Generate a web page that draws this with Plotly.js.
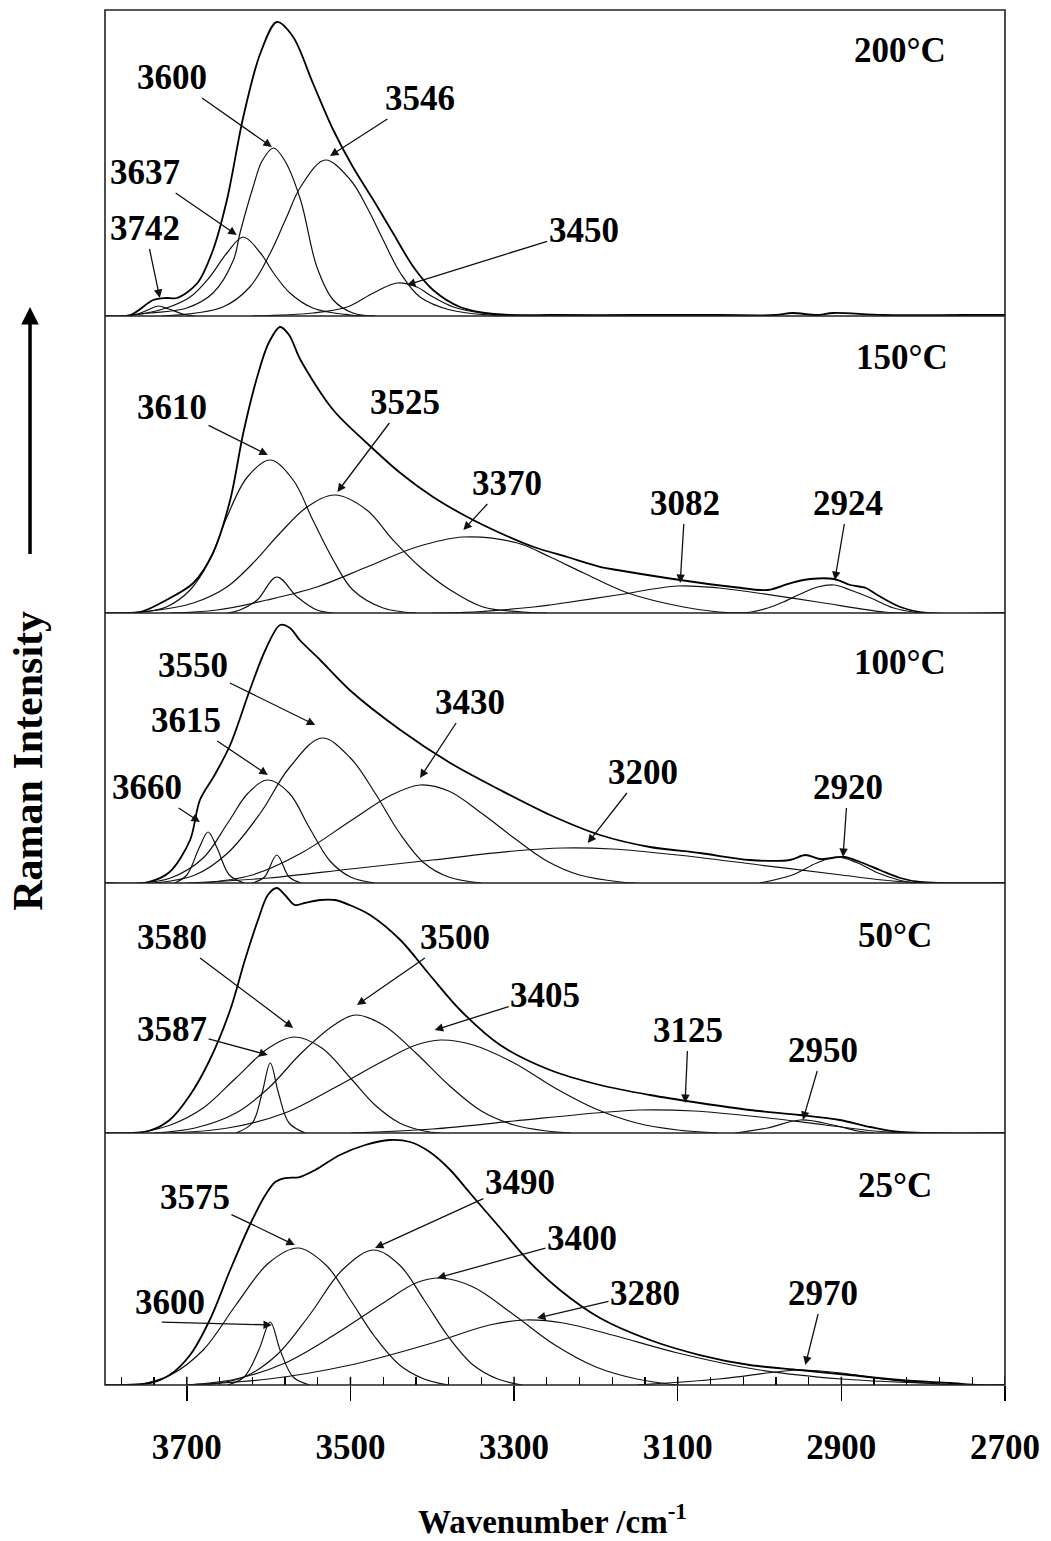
<!DOCTYPE html>
<html><head><meta charset="utf-8">
<script src="https://cdn.plot.ly/plotly-3.0.1.min.js"></script>
<style>html,body{margin:0;padding:0;background:#fff}</style>
</head><body><div id="chart" style="width:1051px;height:1541px"></div>
<script>
// ---------- axis ----------
const xTickVals = [3700, 3500, 3300, 3100, 2900, 2700];
const xMinorVals = [3780,3740,3660,3620,3580,3540,3460,3420,3380,3340,3260,3220,3180,3140,3060,3020,2980,2940,2860,2820,2780,2740];
const temps = ['200°C', '150°C', '100°C', '50°C', '25°C'];

// ---------- 200 °C ----------
const t200_sum_wn = [3800,3769,3741,3725,3712,3687,3668,3651,3631,3610,3590,3570,3546,3521,3497,3472,3448,3423,3399,3366,3325,3250,3150,3050,2980,2960,2930,2910,2850,2750,2700];
const t200_sum_I  = [0,1,16,18,18,33,66,116,199,263,294,279,233,186,149,116,83,49,26,9,2,1,1,1,1,3,1,3,1,1,1];
const t200_3742_wn = [3780,3760,3745,3735,3722,3705,3690];
const t200_3742_I  = [0,2,7,10,7,2,0];
const t200_3637_wn = [3790,3765,3725,3696,3672,3651,3631,3610,3594,3574,3546,3500,3470];
const t200_3637_I  = [0,1,8,19,39,63,79,63,43,23,8,1,0];
const t200_3600_wn = [3780,3745,3700,3668,3643,3635,3619,3608,3594,3580,3561,3541,3521,3497,3470];
const t200_3600_I  = [0,3,8,23,56,83,129,155,168,155,116,49,16,3,0];
const t200_3546_wn = [3730,3656,3623,3598,3578,3561,3531,3500,3480,3460,3439,3415,3378,3330,3290];
const t200_3546_I  = [0,9,29,63,99,129,156,136,109,76,43,19,6,1,0];
const t200_3450_wn = [3620,3546,3504,3472,3443,3419,3399,3374,3340,3300,3270];
const t200_3450_I  = [0,3,9,23,33,29,19,9,3,1,0];

// ---------- 150 °C ----------
const t150_sum_wn = [3800,3757,3725,3692,3668,3647,3631,3614,3600,3586,3575,3561,3521,3480,3439,3399,3357,3317,3276,3235,3194,3174,3097,3032,2990,2962,2938,2909,2889,2870,2856,2828,2795,2700];
const t150_sum_I  = [0,1,13,30,60,113,180,236,270,286,278,253,203,170,140,116,96,80,66,56,46,43,33,26,23,30,34,34,28,25,18,6,0,0];
const t150_3610_wn = [3780,3753,3725,3696,3672,3651,3626,3598,3570,3546,3521,3497,3460,3420];
const t150_3610_I  = [0,1,6,23,53,96,136,153,133,93,53,23,5,0];
const t150_3590_wn = [3650,3635,3614,3590,3565,3541,3520];
const t150_3590_I  = [0,3,13,36,16,3,0];
const t150_3525_wn = [3790,3745,3692,3651,3619,3586,3553,3519,3480,3448,3415,3378,3338,3290,3260];
const t150_3525_I  = [0,2,10,26,50,80,106,118,103,73,46,23,6,1,0];
const t150_3370_wn = [3720,3663,3602,3541,3480,3419,3362,3296,3256,3215,3161,3093,3050,3020];
const t150_3370_I  = [0,3,13,26,46,66,76,70,56,40,20,6,1,0];
const t150_3082_wn = [3400,3350,3276,3256,3174,3100,3050,3011,2929,2848,2820];
const t150_3082_I  = [0,1,6,8,18,27,25,21,11,1,0];
const t150_2924_wn = [3040,3010,2990,2971,2950,2929,2909,2889,2864,2836,2805];
const t150_2924_I  = [0,1,5,11,19,26,28,23,15,5,0];

// ---------- 100 °C ----------
const t100_sum_wn = [3800,3747,3721,3696,3684,3666,3647,3623,3604,3586,3574,3562,3537,3501,3439,3378,3317,3256,3195,3134,3073,3012,2963,2944,2926,2896,2877,2853,2828,2804,2700];
const t100_sum_I  = [0,1,11,43,83,108,138,193,233,258,255,243,223,193,153,120,93,68,48,36,30,23,23,28,24,26,21,13,5,1,0];
const t100_3660_wn = [3715,3700,3685,3674,3663,3648,3630];
const t100_3660_I  = [0,8,35,51,35,8,0];
const t100_3615_wn = [3760,3720,3680,3650,3625,3601,3575,3550,3525,3500,3470];
const t100_3615_I  = [0,5,25,60,90,103,90,55,22,6,0];
const t100_3590_wn = [3620,3605,3590,3575,3560];
const t100_3590_I  = [0,6,28,6,0];
const t100_3550_wn = [3740,3690,3650,3610,3575,3535,3500,3470,3440,3410,3380,3340];
const t100_3550_I  = [0,8,30,70,115,145,125,90,50,20,6,0];
const t100_3430_wn = [3680,3620,3560,3500,3450,3415,3380,3340,3300,3260,3220,3170,3150];
const t100_3430_I  = [0,8,30,62,88,98,92,70,45,22,8,1,0];
const t100_3200_wn = [3700,3600,3500,3400,3300,3240,3180,3100,3000,2900,2850,2800];
const t100_3200_I  = [0,5,14,23,32,35,34,28,18,8,3,0];
const t100_2920_wn = [3000,2960,2930,2905,2880,2855,2830,2810];
const t100_2920_I  = [0,8,20,26,20,10,3,0];

// ---------- 50 °C ----------
const t50_sum_wn = [3800,3747,3721,3696,3672,3647,3629,3613,3601,3590,3580,3568,3556,3537,3519,3501,3476,3439,3403,3366,3317,3256,3195,3134,3073,3012,2951,2902,2865,2828,2700];
const t50_sum_I  = [0,2,13,38,73,123,173,213,238,245,238,228,230,233,233,228,218,193,158,123,88,63,48,38,30,23,18,13,6,1,0];
const t50_3587_wn = [3640,3620,3608,3598,3588,3575,3555];
const t50_3587_I  = [0,10,40,70,40,10,0];
const t50_3580_wn = [3760,3720,3680,3640,3600,3568,3535,3500,3470,3440,3410,3390];
const t50_3580_I  = [0,8,25,55,85,96,85,55,28,10,2,0];
const t50_3500_wn = [3740,3690,3640,3600,3560,3520,3494,3460,3420,3380,3340,3300,3260,3230];
const t50_3500_I  = [0,5,20,45,80,108,118,108,80,48,22,8,2,0];
const t50_3405_wn = [3720,3650,3580,3520,3460,3420,3390,3350,3300,3250,3200,3150,3100,3050];
const t50_3405_I  = [0,5,20,45,72,88,93,88,70,45,24,10,3,0];
const t50_3125_wn = [3500,3400,3300,3200,3146,3080,3000,2920,2860,2820];
const t50_3125_I  = [0,4,12,20,23,22,16,8,2,0];
const t50_2950_wn = [3030,2990,2950,2910,2880,2860];
const t50_2950_I  = [0,5,13,8,2,0];

// ---------- 25 °C ----------
const t25_sum_wn = [3800,3745,3721,3696,3672,3647,3623,3604,3592,3580,3562,3543,3513,3482,3452,3427,3403,3378,3354,3317,3281,3244,3195,3134,3073,3012,2951,2890,2828,2767,2731,2700];
const t25_sum_I  = [0,2,10,30,65,115,160,190,203,207,208,215,230,240,245,243,233,215,192,157,123,95,67,45,30,20,15,10,5,2,0,0];
const t25_3600_wn = [3650,3630,3612,3598,3586,3570,3550];
const t25_3600_I  = [0,8,35,63,35,8,0];
const t25_3575_wn = [3760,3720,3680,3640,3600,3564,3530,3500,3470,3440,3410,3380];
const t25_3575_I  = [0,10,35,80,122,137,120,85,48,20,6,0];
const t25_3490_wn = [3680,3630,3590,3550,3510,3472,3440,3410,3380,3350,3320,3290];
const t25_3490_I  = [0,8,30,70,115,135,120,85,48,20,6,0];
const t25_3400_wn = [3700,3640,3580,3520,3460,3420,3390,3350,3300,3250,3200,3150,3100];
const t25_3400_I  = [0,6,22,50,82,102,107,98,70,40,18,6,0];
const t25_3280_wn = [3700,3600,3500,3400,3330,3286,3240,3180,3100,3000,2900,2800,2750];
const t25_3280_I  = [0,6,20,42,60,65,62,50,32,15,6,2,0];
const t25_2970_wn = [3150,3050,2980,2950,2900,2850,2800,2760];
const t25_2970_I  = [0,6,13,15,12,6,2,0];

// peak labels: [text, label wn, label I, arrow-head wn, arrow-head I]
const labels200 = [['3600',3718,239,3596,169],['3546',3415,218,3525,160],['3637',3751,144,3639,81],['3742',3751,88,3733,18],['3450',3215,86,3431,31]];
const labels150 = [['3610',3718,206,3601,158],['3525',3433,211,3516,121],['3370',3309,130,3362,83],['3082',3091,110,3097,30],['2924',2892,110,2908,33]];
const labels100 = [['3550',3692,218,3543,158],['3615',3701,163,3601,108],['3660',3749,96,3684,61],['3430',3354,181,3415,105],['3200',3142,111,3210,40],['2920',2892,96,2898,26]];
const labels50  = [['3580',3718,196,3570,105],['3587',3718,104,3601,78],['3500',3372,196,3492,128],['3405',3262,138,3397,103],['3125',3087,103,3091,30],['2950',2922,83,2947,13]];
const labels25  = [['3575',3690,188,3568,140],['3490',3293,203,3470,137],['3400',3217,147,3394,107],['3280',3140,92,3272,67],['2970',2922,92,2944,20]];
const tempLabelPos = [[2828,266],[2826,256],[2828,221],[2834,198],[2834,200]];

// ---------- build ----------
const panels = [
  {sum:[t200_sum_wn,t200_sum_I], comps:[[t200_3742_wn,t200_3742_I],[t200_3637_wn,t200_3637_I],[t200_3600_wn,t200_3600_I],[t200_3546_wn,t200_3546_I],[t200_3450_wn,t200_3450_I]], labels:labels200, top:306},
  {sum:[t150_sum_wn,t150_sum_I], comps:[[t150_3610_wn,t150_3610_I],[t150_3590_wn,t150_3590_I],[t150_3525_wn,t150_3525_I],[t150_3370_wn,t150_3370_I],[t150_3082_wn,t150_3082_I],[t150_2924_wn,t150_2924_I]], labels:labels150, top:297},
  {sum:[t100_sum_wn,t100_sum_I], comps:[[t100_3660_wn,t100_3660_I],[t100_3615_wn,t100_3615_I],[t100_3590_wn,t100_3590_I],[t100_3550_wn,t100_3550_I],[t100_3430_wn,t100_3430_I],[t100_3200_wn,t100_3200_I],[t100_2920_wn,t100_2920_I]], labels:labels100, top:270},
  {sum:[t50_sum_wn,t50_sum_I], comps:[[t50_3587_wn,t50_3587_I],[t50_3580_wn,t50_3580_I],[t50_3500_wn,t50_3500_I],[t50_3405_wn,t50_3405_I],[t50_3125_wn,t50_3125_I],[t50_2950_wn,t50_2950_I]], labels:labels50, top:250},
  {sum:[t25_sum_wn,t25_sum_I], comps:[[t25_3600_wn,t25_3600_I],[t25_3575_wn,t25_3575_I],[t25_3490_wn,t25_3490_I],[t25_3400_wn,t25_3400_I],[t25_3280_wn,t25_3280_I],[t25_2970_wn,t25_2970_I]], labels:labels25, top:252}
];
// panel boundaries in fraction of plot height (top to bottom)
const bounds = [1, 0.77745, 0.56145, 0.36509, 0.18327, 0];

const FONT = 'Liberation Serif, Times New Roman, serif';
const traces = [], annotations = [], shapes = [];
const layout = {
  width:1051, height:1541, margin:{l:105, r:46, t:10, b:156},
  paper_bgcolor:'#fff', plot_bgcolor:'#fff', showlegend:false,
  xaxis:{range:[3800,2700], anchor:'y5', tickmode:'array', tickvals:xTickVals,
    ticks:'outside', ticklen:15, tickwidth:1.5, tickcolor:'#000', showgrid:false, zeroline:false,
    showline:false, ticklabelstandoff:16,
    tickfont:{family:FONT, size:35, color:'#000', weight:'bold'},
    minor:{tickvals:xMinorVals, ticks:'inside', ticklen:8, tickwidth:1.2, tickcolor:'#000', showgrid:false}
  },
  annotations, shapes
};

panels.forEach((p, i) => {
  const ya = i === 0 ? 'y' : 'y' + (i + 1);
  const yKey = i === 0 ? 'yaxis' : 'yaxis' + (i + 1);
  layout[yKey] = {domain:[bounds[i+1], bounds[i]], range:[0, p.top], anchor:'x',
    showticklabels:false, showgrid:false, zeroline:false, showline:false, ticks:'', fixedrange:true};
  p.comps.forEach(c => traces.push({x:c[0], y:c[1], xaxis:'x', yaxis:ya, type:'scatter', mode:'lines',
    line:{color:'#111', width:1.2, shape:'spline', smoothing:1}, hoverinfo:'skip'}));
  traces.push({x:p.sum[0], y:p.sum[1], xaxis:'x', yaxis:ya, type:'scatter', mode:'lines',
    line:{color:'#000', width:1.8, shape:'spline', smoothing:0.9}, hoverinfo:'skip'});
  p.labels.forEach(l => annotations.push({xref:'x', yref:ya, axref:'x', ayref:ya,
    x:l[3], y:l[4], ax:l[1], ay:l[2], text:'<b>' + l[0] + '</b>', showarrow:true,
    arrowhead:2, arrowsize:1.3, arrowwidth:1.3, arrowcolor:'#111', standoff:0, startstandoff:0,
    font:{family:FONT, size:35, color:'#000'}}));
  annotations.push({xref:'x', yref:ya, x:tempLabelPos[i][0], y:tempLabelPos[i][1], text:'<b>' + temps[i] + '</b>',
    showarrow:false, font:{family:FONT, size:35, color:'#000'}});
  if (i > 0) shapes.push({type:'line', xref:'paper', yref:'paper', x0:0, x1:1, y0:bounds[i], y1:bounds[i], line:{color:'#222', width:1.6}, layer:'above'});
});
// major ticks also cross the axis line (inside part)
xTickVals.forEach(v => shapes.push({type:'line', xref:'x', yref:'paper', x0:v, x1:v, y0:0, y1:0.006, line:{color:'#000', width:1.5}, layer:'above'}));
// 25 °C: "3600" label with separate horizontal arrow
annotations.push({xref:'x', yref:'y5', x:3721, y:83, text:'<b>3600</b>', showarrow:false, font:{family:FONT, size:35, color:'#000'}});
annotations.push({xref:'x', yref:'y5', axref:'x', ayref:'y5', x:3596, y:60, ax:3733, ay:63, text:' ', showarrow:true,
  arrowhead:2, arrowsize:1.3, arrowwidth:1.3, arrowcolor:'#111', standoff:0, startstandoff:0, font:{size:2}});
// frame
shapes.push({type:'rect', xref:'paper', yref:'paper', x0:0, x1:1, y0:0, y1:1, line:{color:'#222', width:1.6}, layer:'above'});
// y-axis title and arrow
annotations.push({xref:'paper', yref:'paper', x:-0.0855, xanchor:'center', y:0.454, yanchor:'middle', text:'<b>Raman Intensity</b>', textangle:-90,
  showarrow:false, font:{family:FONT, size:42, color:'#000'}});
annotations.push({xref:'paper', yref:'paper', x:-0.0833, y:0.784, ax:0, ay:250, text:' ', showarrow:true,
  arrowhead:2, arrowsize:1, arrowwidth:3.5, arrowcolor:'#000', standoff:0, startstandoff:0, font:{size:2}});
// x-axis title
annotations.push({xref:'paper', yref:'paper', x:0.497, xanchor:'center', y:-0.0975, yanchor:'middle', text:'<b>Wavenumber /cm<sup>-1</sup></b>',
  showarrow:false, font:{family:FONT, size:33, color:'#000'}});

Plotly.newPlot('chart', traces, layout, {staticPlot:true});
</script></body></html>
